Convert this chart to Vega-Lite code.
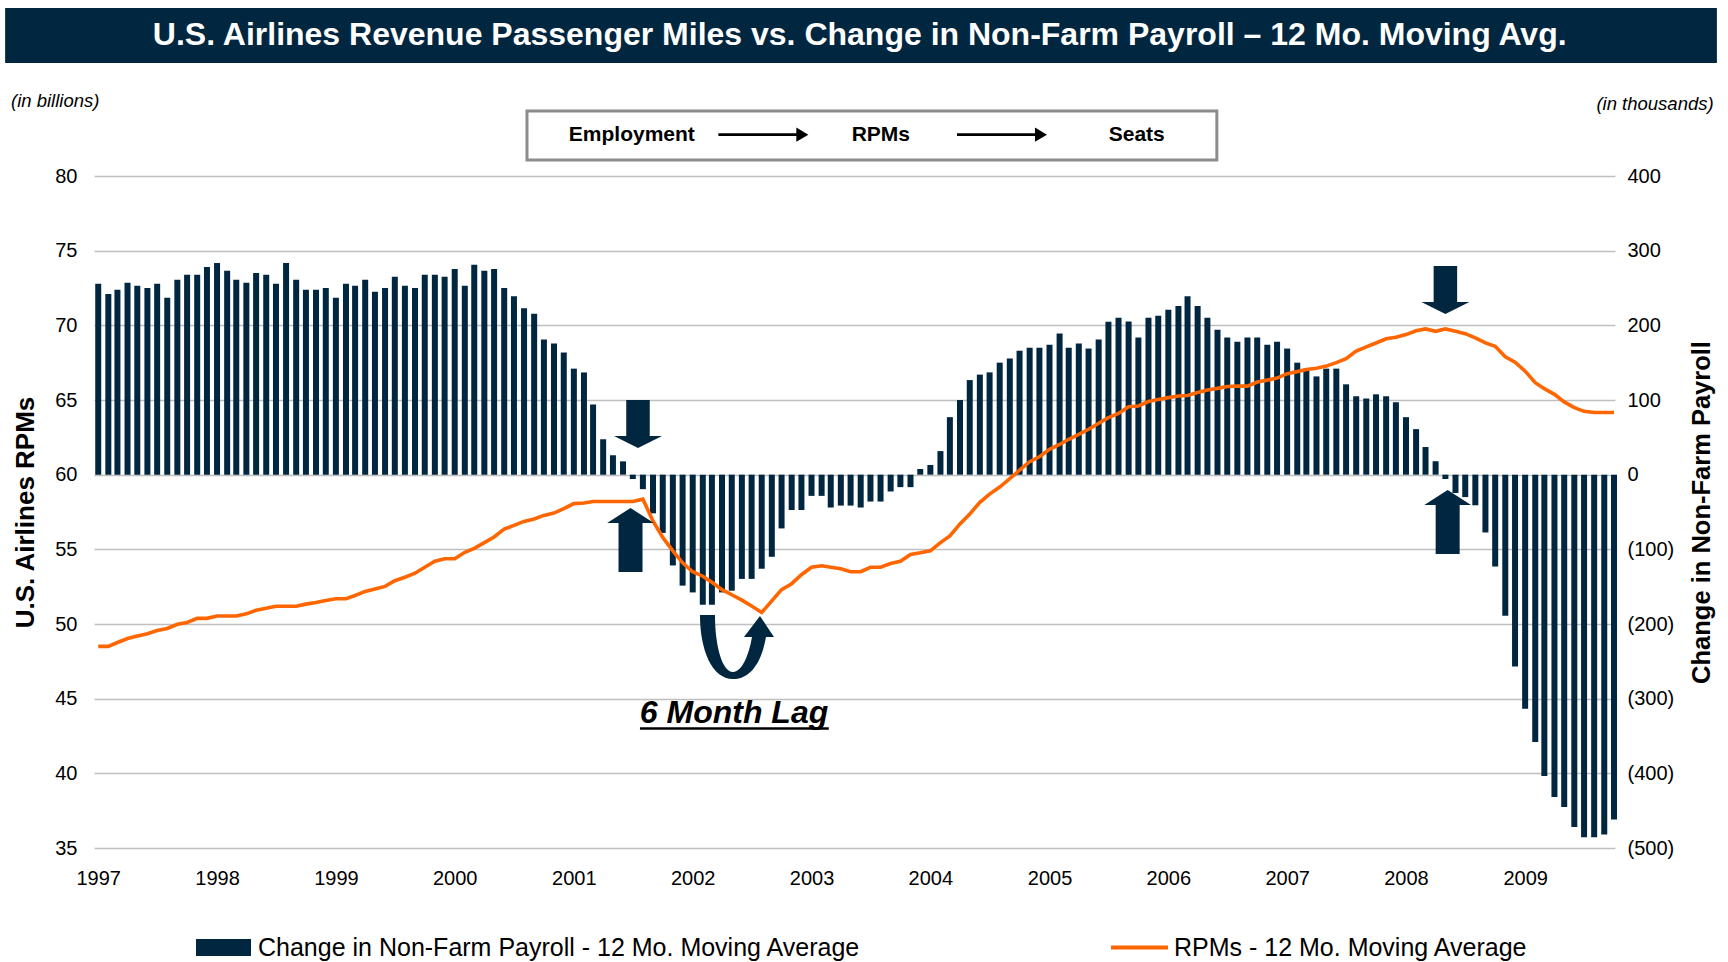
{
  "$schema": "https://vega.github.io/schema/vega-lite/v6.json",
  "width": 1521,
  "height": 672,
  "autosize": "none",
  "padding": {"left": 94, "top": 176, "right": 113, "bottom": 114},
  "background": "white",
  "config": {
    "font": "Liberation Sans",
    "view": {"stroke": null},
    "axis": {"labelFont": "Liberation Sans", "titleFont": "Liberation Sans", "labelColor": "#000", "titleColor": "#000", "labelFontSize": 20, "titleFontSize": 26, "titleFontWeight": "bold", "ticks": false, "tickSize": 0, "domain": false}
  },
  "data": {"values": [
    {"d":"1997-01","pay":255.6,"rpm":48.5},{"d":"1997-02","pay":242,"rpm":48.5},{"d":"1997-03","pay":247.6,"rpm":48.76},{"d":"1997-04","pay":257,"rpm":49.03},{"d":"1997-05","pay":253,"rpm":49.19},{"d":"1997-06","pay":250,"rpm":49.35},{"d":"1997-07","pay":255.6,"rpm":49.57},{"d":"1997-08","pay":237,"rpm":49.7},{"d":"1997-09","pay":261,"rpm":49.98},{"d":"1997-10","pay":267.6,"rpm":50.1},{"d":"1997-11","pay":267.6,"rpm":50.38},{"d":"1997-12","pay":278,"rpm":50.38},
    {"d":"1998-01","pay":283.6,"rpm":50.54},{"d":"1998-02","pay":273,"rpm":50.54},{"d":"1998-03","pay":261,"rpm":50.54},{"d":"1998-04","pay":257,"rpm":50.68},{"d":"1998-05","pay":270,"rpm":50.92},{"d":"1998-06","pay":267.6,"rpm":51.06},{"d":"1998-07","pay":255.6,"rpm":51.19},{"d":"1998-08","pay":283.6,"rpm":51.19},{"d":"1998-09","pay":261,"rpm":51.19},{"d":"1998-10","pay":247.6,"rpm":51.33},{"d":"1998-11","pay":247.6,"rpm":51.44},{"d":"1998-12","pay":250,"rpm":51.58},
    {"d":"1999-01","pay":237,"rpm":51.69},{"d":"1999-02","pay":255.6,"rpm":51.69},{"d":"1999-03","pay":253,"rpm":51.91},{"d":"1999-04","pay":261,"rpm":52.18},{"d":"1999-05","pay":245,"rpm":52.34},{"d":"1999-06","pay":250,"rpm":52.52},{"d":"1999-07","pay":265,"rpm":52.9},{"d":"1999-08","pay":253,"rpm":53.13},{"d":"1999-09","pay":250,"rpm":53.4},{"d":"1999-10","pay":267.6,"rpm":53.8},{"d":"1999-11","pay":267.6,"rpm":54.2},{"d":"1999-12","pay":265,"rpm":54.37},
    {"d":"2000-01","pay":275.6,"rpm":54.37},{"d":"2000-02","pay":253,"rpm":54.8},{"d":"2000-03","pay":281,"rpm":55.07},{"d":"2000-04","pay":273,"rpm":55.45},{"d":"2000-05","pay":275.6,"rpm":55.83},{"d":"2000-06","pay":250,"rpm":56.35},{"d":"2000-07","pay":239,"rpm":56.6},{"d":"2000-08","pay":223,"rpm":56.87},{"d":"2000-09","pay":215.6,"rpm":57.03},{"d":"2000-10","pay":181,"rpm":57.27},{"d":"2000-11","pay":175.6,"rpm":57.43},{"d":"2000-12","pay":163.6,"rpm":57.72},
    {"d":"2001-01","pay":142,"rpm":58.06},{"d":"2001-02","pay":136.9,"rpm":58.1},{"d":"2001-03","pay":94,"rpm":58.2},{"d":"2001-04","pay":47.6,"rpm":58.2},{"d":"2001-05","pay":26,"rpm":58.2},{"d":"2001-06","pay":17.8,"rpm":58.2},{"d":"2001-07","pay":-5.8,"rpm":58.2},{"d":"2001-08","pay":-19.4,"rpm":58.36},{"d":"2001-09","pay":-51.8,"rpm":56.9},{"d":"2001-10","pay":-78,"rpm":55.8},{"d":"2001-11","pay":-121.6,"rpm":54.9},{"d":"2001-12","pay":-148.6,"rpm":54.1},
    {"d":"2002-01","pay":-157.7,"rpm":53.5},{"d":"2002-02","pay":-174.3,"rpm":53.2},{"d":"2002-03","pay":-174.3,"rpm":52.8},{"d":"2002-04","pay":-157.7,"rpm":52.3},{"d":"2002-05","pay":-155.4,"rpm":51.96},{"d":"2002-06","pay":-139.6,"rpm":51.6},{"d":"2002-07","pay":-139.6,"rpm":51.2},{"d":"2002-08","pay":-126,"rpm":50.77},{"d":"2002-09","pay":-110,"rpm":51.55},{"d":"2002-10","pay":-72,"rpm":52.3},{"d":"2002-11","pay":-47.3,"rpm":52.7},{"d":"2002-12","pay":-47.3,"rpm":53.3},
    {"d":"2003-01","pay":-28.4,"rpm":53.8},{"d":"2003-02","pay":-28.4,"rpm":53.9},{"d":"2003-03","pay":-44,"rpm":53.8},{"d":"2003-04","pay":-41.4,"rpm":53.7},{"d":"2003-05","pay":-41.4,"rpm":53.5},{"d":"2003-06","pay":-44,"rpm":53.5},{"d":"2003-07","pay":-36,"rpm":53.8},{"d":"2003-08","pay":-36,"rpm":53.8},{"d":"2003-09","pay":-22.5,"rpm":54.05},{"d":"2003-10","pay":-16.7,"rpm":54.2},{"d":"2003-11","pay":-16.7,"rpm":54.66},{"d":"2003-12","pay":7.6,"rpm":54.77},
    {"d":"2004-01","pay":13,"rpm":54.9},{"d":"2004-02","pay":31.6,"rpm":55.45},{"d":"2004-03","pay":77,"rpm":55.9},{"d":"2004-04","pay":100,"rpm":56.7},{"d":"2004-05","pay":126.7,"rpm":57.36},{"d":"2004-06","pay":134,"rpm":58.15},{"d":"2004-07","pay":137,"rpm":58.7},{"d":"2004-08","pay":150,"rpm":59.17},{"d":"2004-09","pay":155.6,"rpm":59.73},{"d":"2004-10","pay":166,"rpm":60.3},{"d":"2004-11","pay":170,"rpm":60.87},{"d":"2004-12","pay":170,"rpm":61.2},
    {"d":"2005-01","pay":174,"rpm":61.7},{"d":"2005-02","pay":189,"rpm":62.02},{"d":"2005-03","pay":170,"rpm":62.37},{"d":"2005-04","pay":175.6,"rpm":62.7},{"d":"2005-05","pay":168.9,"rpm":63.04},{"d":"2005-06","pay":181,"rpm":63.44},{"d":"2005-07","pay":204.9,"rpm":63.82},{"d":"2005-08","pay":210,"rpm":64.1},{"d":"2005-09","pay":205,"rpm":64.55},{"d":"2005-10","pay":183.6,"rpm":64.6},{"d":"2005-11","pay":210,"rpm":64.9},{"d":"2005-12","pay":212.9,"rpm":65.04},
    {"d":"2006-01","pay":221,"rpm":65.16},{"d":"2006-02","pay":226,"rpm":65.27},{"d":"2006-03","pay":239,"rpm":65.3},{"d":"2006-04","pay":226,"rpm":65.5},{"d":"2006-05","pay":210,"rpm":65.67},{"d":"2006-06","pay":194,"rpm":65.78},{"d":"2006-07","pay":183.6,"rpm":65.9},{"d":"2006-08","pay":178,"rpm":65.93},{"d":"2006-09","pay":183.6,"rpm":65.93},{"d":"2006-10","pay":183.6,"rpm":66.2},{"d":"2006-11","pay":174,"rpm":66.33},{"d":"2006-12","pay":178,"rpm":66.47},
    {"d":"2007-01","pay":168.9,"rpm":66.76},{"d":"2007-02","pay":150,"rpm":66.9},{"d":"2007-03","pay":142,"rpm":67.04},{"d":"2007-04","pay":131.6,"rpm":67.13},{"d":"2007-05","pay":142,"rpm":67.27},{"d":"2007-06","pay":142,"rpm":67.5},{"d":"2007-07","pay":121,"rpm":67.76},{"d":"2007-08","pay":105,"rpm":68.27},{"d":"2007-09","pay":102,"rpm":68.56},{"d":"2007-10","pay":107.6,"rpm":68.82},{"d":"2007-11","pay":105,"rpm":69.1},{"d":"2007-12","pay":97,"rpm":69.2},
    {"d":"2008-01","pay":77,"rpm":69.38},{"d":"2008-02","pay":61,"rpm":69.64},{"d":"2008-03","pay":37,"rpm":69.76},{"d":"2008-04","pay":18,"rpm":69.6},{"d":"2008-05","pay":-5.8,"rpm":69.76},{"d":"2008-06","pay":-24.6,"rpm":69.6},{"d":"2008-07","pay":-30,"rpm":69.44},{"d":"2008-08","pay":-41,"rpm":69.16},{"d":"2008-09","pay":-77.4,"rpm":68.82},{"d":"2008-10","pay":-123,"rpm":68.6},{"d":"2008-11","pay":-188.8,"rpm":67.9},{"d":"2008-12","pay":-257,"rpm":67.53},
    {"d":"2009-01","pay":-313.6,"rpm":66.93},{"d":"2009-02","pay":-358,"rpm":66.16},{"d":"2009-03","pay":-403.6,"rpm":65.76},{"d":"2009-04","pay":-431.8,"rpm":65.38},{"d":"2009-05","pay":-445,"rpm":64.87},{"d":"2009-06","pay":-472,"rpm":64.49},{"d":"2009-07","pay":-485.5,"rpm":64.24},{"d":"2009-08","pay":-485.5,"rpm":64.16},{"d":"2009-09","pay":-482,"rpm":64.16},{"d":"2009-10","pay":-461.7,"rpm":64.16}
  ]},
  "resolve": {"scale": {"y": "independent"}},
  "layer": [
    {
      "mark": {"type": "bar", "size": 6, "orient": "vertical"},
      "encoding": {
        "x": {"field": "d", "type": "temporal",
          "scale": {"type": "utc", "nice": false, "padding": 0, "domain": [{"year": 1996, "month": 12, "date": 19, "utc": true}, {"year": 2009, "month": 10, "date": 4, "utc": true}]},
          "axis": {"title": null, "grid": false, "format": "%Y", "formatType": "utc", "labelPadding": 20, "labelFlush": false,
            "values": [{"year":1997,"month":1,"date":1,"utc":true},{"year":1998,"month":1,"date":1,"utc":true},{"year":1999,"month":1,"date":1,"utc":true},{"year":2000,"month":1,"date":1,"utc":true},{"year":2001,"month":1,"date":1,"utc":true},{"year":2002,"month":1,"date":1,"utc":true},{"year":2003,"month":1,"date":1,"utc":true},{"year":2004,"month":1,"date":1,"utc":true},{"year":2005,"month":1,"date":1,"utc":true},{"year":2006,"month":1,"date":1,"utc":true},{"year":2007,"month":1,"date":1,"utc":true},{"year":2008,"month":1,"date":1,"utc":true},{"year":2009,"month":1,"date":1,"utc":true}]}},
        "y": {"field": "pay", "type": "quantitative", "scale": {"domain": [-500, 400], "nice": false},
          "axis": {"orient": "right", "values": [-500,-400,-300,-200,-100,0,100,200,300,400], "grid": false, "labelPadding": 12,
            "labelExpr": "datum.value < 0 ? '(' + format(-datum.value, 'd') + ')' : format(datum.value, 'd')",
            "title": "Change in Non-Farm Payroll", "titleFontSize": 25.5, "titleAngle": 270, "titleBaseline": "top", "titlePadding": 16}},
        "fill": {"datum": "Change in Non-Farm Payroll - 12 Mo. Moving Average", "scale": {"range": ["#012640"]},
          "legend": {"orient": "none", "legendX": 102, "legendY": 744, "title": null, "direction": "horizontal",
            "symbolType": "M-1,-0.31L1,-0.31L1,0.31L-1,0.31Z", "symbolSize": 3025, "symbolStrokeWidth": 0, "symbolOpacity": 1,
            "labelFontSize": 25, "labelFont": "Liberation Sans", "labelColor": "#000", "labelOffset": 7, "labelLimit": 900}}
      }
    },
    {
      "layer": [
        {
          "mark": {"type": "line", "strokeWidth": 3.6},
          "encoding": {
            "x": {"field": "d", "type": "temporal", "scale": {"type": "utc", "nice": false, "padding": 0}},
            "y": {"field": "rpm", "type": "quantitative", "scale": {"domain": [35, 80], "nice": false, "zero": false},
              "axis": {"orient": "left", "values": [35,40,45,50,55,60,65,70,75,80], "grid": true, "gridColor": "#BFBFBF", "gridWidth": 1.5,
                "labelPadding": 17, "title": "U.S. Airlines RPMs", "titlePadding": 16}},
            "stroke": {"datum": "RPMs - 12 Mo. Moving Average", "scale": {"range": ["#FF6600"]},
              "legend": {"orient": "none", "legendX": 1015, "legendY": 741, "title": null, "direction": "horizontal",
                "symbolType": "stroke", "symbolSize": 3249, "symbolStrokeWidth": 4,
                "labelFontSize": 25, "labelFont": "Liberation Sans", "labelColor": "#000", "labelOffset": 4, "labelLimit": 900}}
          }
        },
        {
          "data": {"values": [{}]},
          "mark": {"type": "rect", "fill": "#012640"},
          "encoding": {
            "x": {"datum": {"year": 1996, "month": 3, "date": 21, "utc": true}, "type": "temporal", "scale": {"type": "utc", "nice": false, "padding": 0}},
            "x2": {"datum": {"year": 2010, "month": 8, "date": 13, "utc": true}},
            "y": {"datum": 91.25, "type": "quantitative", "scale": {"domain": [35, 80], "nice": false, "zero": false}},
            "y2": {"datum": 87.57}
          }
        },
        {
          "data": {"values": [{}]},
          "mark": {"type": "text", "text": "U.S. Airlines Revenue Passenger Miles vs. Change in Non-Farm Payroll – 12 Mo. Moving Avg.", "font": "Liberation Sans", "fontSize": 32, "fontWeight": "bold", "fill": "white", "align": "center", "baseline": "middle"},
          "encoding": {
            "x": {"datum": {"year": 2003, "month": 5, "date": 29, "utc": true}, "type": "temporal", "scale": {"type": "utc", "nice": false, "padding": 0}},
            "y": {"datum": 89.41, "type": "quantitative", "scale": {"domain": [35, 80], "nice": false, "zero": false}}
          }
        },
        {
          "data": {"values": [{}]},
          "mark": {"type": "text", "text": "(in billions)", "font": "Liberation Sans", "fontSize": 18.5, "fontStyle": "italic", "fill": "#000", "align": "left", "baseline": "middle"},
          "encoding": {
            "x": {"datum": {"year": 1996, "month": 4, "date": 8, "utc": true}, "type": "temporal", "scale": {"type": "utc", "nice": false, "padding": 0}},
            "y": {"datum": 85.02, "type": "quantitative", "scale": {"domain": [35, 80], "nice": false, "zero": false}}
          }
        },
        {
          "data": {"values": [{}]},
          "mark": {"type": "text", "text": "(in thousands)", "font": "Liberation Sans", "fontSize": 18.5, "fontStyle": "italic", "fill": "#000", "align": "right", "baseline": "middle"},
          "encoding": {
            "x": {"datum": {"year": 2010, "month": 8, "date": 3, "utc": true}, "type": "temporal", "scale": {"type": "utc", "nice": false, "padding": 0}},
            "y": {"datum": 84.82, "type": "quantitative", "scale": {"domain": [35, 80], "nice": false, "zero": false}}
          }
        },
        {
          "data": {"values": [{}]},
          "mark": {"type": "rect", "fill": "white", "stroke": "#8C8C8C", "strokeWidth": 3},
          "encoding": {
            "x": {"datum": {"year": 2000, "month": 8, "date": 10, "utc": true}, "type": "temporal", "scale": {"type": "utc", "nice": false, "padding": 0}},
            "x2": {"datum": {"year": 2006, "month": 5, "date": 30, "utc": true}},
            "y": {"datum": 84.35, "type": "quantitative", "scale": {"domain": [35, 80], "nice": false, "zero": false}},
            "y2": {"datum": 81.07}
          }
        },
        {
          "data": {"values": [
            {"label": "Employment", "when": "2001-06-28"},
            {"label": "RPMs", "when": "2003-08-02"},
            {"label": "Seats", "when": "2005-09-26"}
          ]},
          "mark": {"type": "text", "font": "Liberation Sans", "fontSize": 21, "fontWeight": "bold", "fill": "#000", "align": "center", "baseline": "middle"},
          "encoding": {
            "x": {"field": "when", "type": "temporal", "scale": {"type": "utc", "nice": false, "padding": 0}},
            "y": {"datum": 82.77, "type": "quantitative", "scale": {"domain": [35, 80], "nice": false, "zero": false}},
            "text": {"field": "label"}
          }
        },
        {
          "data": {"values": [{}]},
          "mark": {"type": "point", "shape": "M-1,-0.028L0.733,-0.028L0.733,-0.156L1,0L0.733,0.156L0.733,0.028L-1,0.028Z", "size": 8100, "filled": true, "fill": "#000", "opacity": 1, "strokeWidth": 0},
          "encoding": {
            "x": {"datum": {"year": 2002, "month": 8, "date": 6, "utc": true}, "type": "temporal", "scale": {"type": "utc", "nice": false, "padding": 0}},
            "y": {"datum": 82.77, "type": "quantitative", "scale": {"domain": [35, 80], "nice": false, "zero": false}}
          }
        },
        {
          "data": {"values": [{}]},
          "mark": {"type": "point", "shape": "M-1,-0.028L0.733,-0.028L0.733,-0.156L1,0L0.733,0.156L0.733,0.028L-1,0.028Z", "size": 8100, "filled": true, "fill": "#000", "opacity": 1, "strokeWidth": 0},
          "encoding": {
            "x": {"datum": {"year": 2004, "month": 8, "date": 8, "utc": true}, "type": "temporal", "scale": {"type": "utc", "nice": false, "padding": 0}},
            "y": {"datum": 82.77, "type": "quantitative", "scale": {"domain": [35, 80], "nice": false, "zero": false}}
          }
        },
        {
          "data": {"values": [{}]},
          "mark": {"type": "point", "shape": "M-0.49,-1L0.49,-1L0.49,0.5L1,0.5L0,1L-1,0.5L-0.49,0.5Z", "size": 2304, "filled": true, "fill": "#012640", "opacity": 1, "strokeWidth": 0},
          "encoding": {
            "x": {"datum": {"year": 2001, "month": 7, "date": 17, "utc": true}, "type": "temporal", "scale": {"type": "utc", "nice": false, "padding": 0}},
            "y": {"datum": 63.39, "type": "quantitative", "scale": {"domain": [35, 80], "nice": false, "zero": false}}
          }
        },
        {
          "data": {"values": [{}]},
          "mark": {"type": "point", "shape": "M0,-1L0.73,-0.53L0.375,-0.53L0.375,1L-0.375,1L-0.375,-0.53L-0.73,-0.53Z", "size": 4096, "filled": true, "fill": "#012640", "opacity": 1, "strokeWidth": 0},
          "encoding": {
            "x": {"datum": {"year": 2001, "month": 6, "date": 24, "utc": true}, "type": "temporal", "scale": {"type": "utc", "nice": false, "padding": 0}},
            "y": {"datum": 55.62, "type": "quantitative", "scale": {"domain": [35, 80], "nice": false, "zero": false}}
          }
        },
        {
          "data": {"values": [{}]},
          "mark": {"type": "point", "shape": "M-0.49,-1L0.49,-1L0.49,0.5L1,0.5L0,1L-1,0.5L-0.49,0.5Z", "size": 2304, "filled": true, "fill": "#012640", "opacity": 1, "strokeWidth": 0},
          "encoding": {
            "x": {"datum": {"year": 2008, "month": 5, "date": 1, "utc": true}, "type": "temporal", "scale": {"type": "utc", "nice": false, "padding": 0}},
            "y": {"datum": 72.37, "type": "quantitative", "scale": {"domain": [35, 80], "nice": false, "zero": false}}
          }
        },
        {
          "data": {"values": [{}]},
          "mark": {"type": "point", "shape": "M0,-1L0.73,-0.53L0.375,-0.53L0.375,1L-0.375,1L-0.375,-0.53L-0.73,-0.53Z", "size": 4096, "filled": true, "fill": "#012640", "opacity": 1, "strokeWidth": 0},
          "encoding": {
            "x": {"datum": {"year": 2008, "month": 5, "date": 8, "utc": true}, "type": "temporal", "scale": {"type": "utc", "nice": false, "padding": 0}},
            "y": {"datum": 56.83, "type": "quantitative", "scale": {"domain": [35, 80], "nice": false, "zero": false}}
          }
        },
        {
          "data": {"values": [{}]},
          "mark": {"type": "point", "shape": "M-1,-0.865C-1,0.081,-0.676,0.865,-0.108,0.865C0.405,0.865,0.676,0.351,0.784,-0.27L1,-0.27L0.622,-0.838L0.189,-0.27L0.405,-0.27C0.324,0.216,0.135,0.676,-0.108,0.676C-0.405,0.676,-0.595,-0.054,-0.595,-0.865Z", "size": 5476, "filled": true, "fill": "#012640", "opacity": 1, "strokeWidth": 0},
          "encoding": {
            "x": {"datum": {"year": 2002, "month": 5, "date": 17, "utc": true}, "type": "temporal", "scale": {"type": "utc", "nice": false, "padding": 0}},
            "y": {"datum": 48.46, "type": "quantitative", "scale": {"domain": [35, 80], "nice": false, "zero": false}}
          }
        },
        {
          "data": {"values": [{}]},
          "mark": {"type": "text", "text": "6 Month Lag", "font": "Liberation Sans", "fontSize": 32, "fontWeight": "bold", "fontStyle": "italic", "fill": "#000", "align": "center", "baseline": "middle"},
          "encoding": {
            "x": {"datum": {"year": 2002, "month": 5, "date": 8, "utc": true}, "type": "temporal", "scale": {"type": "utc", "nice": false, "padding": 0}},
            "y": {"datum": 44.04, "type": "quantitative", "scale": {"domain": [35, 80], "nice": false, "zero": false}}
          }
        },
        {
          "data": {"values": [{}]},
          "mark": {"type": "rule", "stroke": "#000", "strokeWidth": 2.5},
          "encoding": {
            "x": {"datum": {"year": 2001, "month": 7, "date": 23, "utc": true}, "type": "temporal", "scale": {"type": "utc", "nice": false, "padding": 0}},
            "x2": {"datum": {"year": 2003, "month": 2, "date": 23, "utc": true}},
            "y": {"datum": 43.0, "type": "quantitative", "scale": {"domain": [35, 80], "nice": false, "zero": false}}
          }
        }
      ]
    }
  ]
}
